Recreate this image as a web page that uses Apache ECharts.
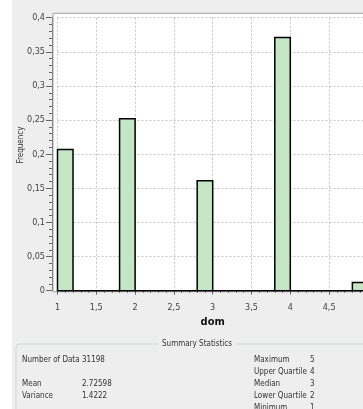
<!DOCTYPE html>
<html><head><meta charset="utf-8">
<script src="https://cdn.jsdelivr.net/npm/echarts@6/dist/echarts.min.js"></script>
<style>html,body{margin:0;padding:0;background:#ffffff;}#c{width:363px;height:409px;}</style>
</head><body><div id="c"></div>
<script>
// Histogram bins of "dom" (bin edges) and relative frequency per bin
const binEdges = [1, 1.2, 1.4, 1.6, 1.8, 2, 2.2, 2.4, 2.6, 2.8, 3, 3.2, 3.4, 3.6, 3.8, 4, 4.2, 4.4, 4.6, 4.8, 5];
const frequency = [0.207, 0, 0, 0, 0.252, 0, 0, 0, 0, 0.161, 0, 0, 0, 0, 0.371, 0, 0, 0, 0, 0.012];
const xTicks = [1, 1.5, 2, 2.5, 3, 3.5, 4, 4.5, 5];
const yTicks = [0, 0.05, 0.1, 0.15, 0.2, 0.25, 0.3, 0.35, 0.4];
const xName = 'dom';
const yName = 'Frequency';
const summaryTitle = 'Summary Statistics';
const summaryLeftLabels = ['Number of Data', 'Mean', 'Variance'];
const summaryLeftValues = ['31198', '2.72598', '1.4222'];
const summaryRightLabels = ['Maximum', 'Upper Quartile', 'Median', 'Lower Quartile', 'Minimum'];
const summaryRightValues = ['5', '4', '3', '2', '1'];

const FONT = "'DejaVu Sans Condensed', 'DejaVu Sans', sans-serif";
const fmt = v => String(+v.toFixed(4)).replace('.', ',');

const data = frequency.map((f, i) => [binEdges[i], binEdges[i + 1], f]);

const leftRowsY = [360, 384, 396];
const rightRowsY = [360, 372, 384, 396, 408];

const graphics = [
  {type: 'rect', z: -10, shape: {x: 0, y: 0, width: 12, height: 409}, style: {fill: '#ffffff'}},
  {type: 'rect', z: -5, shape: {x: 53, y: 13.3, width: 330, height: 278.4}, style: {fill: '#ffffff', stroke: '#a0a0a0', lineWidth: 1}},
  {type: 'text', x: 21, y: 145, rotation: Math.PI / 2,
   style: {text: yName, font: '8px ' + FONT, fill: '#333', textAlign: 'center', textVerticalAlign: 'middle', align: 'center', verticalAlign: 'middle'}},
  {type: 'rect', shape: {x: 16, y: 344, width: 400, height: 120, r: 4}, style: {fill: 'none', stroke: '#cdd6de', lineWidth: 1}},
  {type: 'text', x: 197, y: 344,
   style: {text: summaryTitle, font: '8px ' + FONT, fill: '#333', textAlign: 'center', textVerticalAlign: 'middle', align: 'center', verticalAlign: 'middle', backgroundColor: '#eeeeee', padding: [1, 4]}}
];
summaryLeftLabels.forEach((t, i) => {
  graphics.push({type: 'text', x: 22, y: leftRowsY[i], style: {text: t, font: '8px ' + FONT, fill: '#333', textVerticalAlign: 'middle', verticalAlign: 'middle'}});
  graphics.push({type: 'text', x: 82, y: leftRowsY[i], style: {text: summaryLeftValues[i], font: '8px ' + FONT, fill: '#333', textVerticalAlign: 'middle', verticalAlign: 'middle'}});
});
summaryRightLabels.forEach((t, i) => {
  graphics.push({type: 'text', x: 254, y: rightRowsY[i], style: {text: t, font: '8px ' + FONT, fill: '#333', textVerticalAlign: 'middle', verticalAlign: 'middle'}});
  graphics.push({type: 'text', x: 310, y: rightRowsY[i], style: {text: summaryRightValues[i], font: '8px ' + FONT, fill: '#333', textVerticalAlign: 'middle', verticalAlign: 'middle'}});
});

const chart = echarts.init(document.getElementById('c'), null, {renderer: 'canvas'});
chart.setOption({
  animation: false,
  backgroundColor: '#eeeeee',
  grid: {left: 57.5, width: 310.4, top: 17.7, height: 273, containLabel: false, outerBoundsMode: 'none'},
  xAxis: {
    type: 'value', min: xTicks[0], max: xTicks[xTicks.length - 1], interval: xTicks[1] - xTicks[0],
    offset: 6.5,
    name: xName, nameLocation: 'middle', nameGap: 17,
    nameTextStyle: {fontFamily: FONT, fontWeight: 'bold', fontSize: 11, color: '#111'},
    axisLine: {show: true, lineStyle: {color: '#888', width: 1}},
    axisTick: {show: true, length: 4, lineStyle: {color: '#666'}},
    minorTick: {show: true, splitNumber: 5, length: 2, lineStyle: {color: '#666'}},
    axisLabel: {margin: 6, fontFamily: FONT, fontSize: 9, color: '#444', formatter: fmt},
    splitLine: {show: true, lineStyle: {color: '#c4c4c4', type: [2, 2], width: 1}}
  },
  yAxis: {
    type: 'value', min: yTicks[0], max: yTicks[yTicks.length - 1], interval: yTicks[1] - yTicks[0],
    offset: 5.5,
    axisLine: {show: true, lineStyle: {color: '#888', width: 1}},
    axisTick: {show: true, length: 6, lineStyle: {color: '#666'}},
    minorTick: {show: true, splitNumber: 5, length: 3, lineStyle: {color: '#666'}},
    axisLabel: {margin: 7, fontFamily: FONT, fontSize: 9, color: '#444', formatter: fmt},
    splitLine: {show: true, lineStyle: {color: '#c4c4c4', type: [2, 2], width: 1}}
  },
  graphic: {elements: graphics},
  series: [{
    type: 'custom',
    clip: false,
    data: data,
    encode: {x: [0, 1], y: 2},
    renderItem: function (params, api) {
      const x0 = api.value(0), x1 = api.value(1), f = api.value(2);
      const pTop = api.coord([x0, f]);
      const pBot = api.coord([x1, 0]);
      return {
        type: 'rect',
        shape: {x: pTop[0], y: pTop[1], width: pBot[0] - pTop[0], height: pBot[1] - pTop[1]},
        style: {fill: '#c4e6c4', stroke: '#000000', lineWidth: 1.5}
      };
    }
  }]
});
</script></body></html>
